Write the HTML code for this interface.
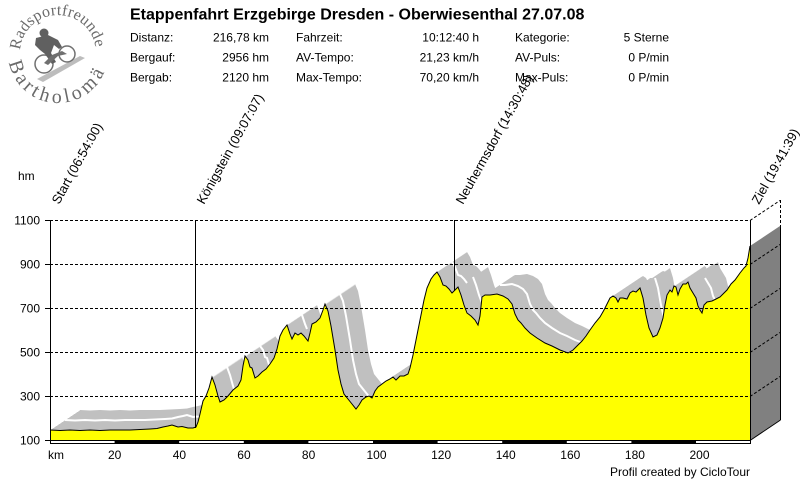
<!DOCTYPE html>
<html><head><meta charset="utf-8"><style>
html,body{margin:0;padding:0;background:#fff;}
svg{display:block;}
text{font-family:"Liberation Sans",Arial,sans-serif;fill:#000;}
.lt{font-family:"Liberation Serif","Times New Roman",serif;fill:#6a6a6a;}
</style></head><body>
<svg width="800" height="480" viewBox="0 0 800 480" xmlns="http://www.w3.org/2000/svg">
<defs>
<polygon id="p" points="50,440 50,430 60,430.5 70,430 80,430.5 90,430 100,430.5 110,430 120,430 130,430 140,429.5 150,429 157,428.5 163,427 168,426 172,425 175,426 178,427 182,426.5 188,428 193,428 196,427 198,422 200,414 203,401 206,396 209,388 212,377 215,385 218,396 220,402 224,400 228,396 233,390 238,386 241,380 243,366 245,356 248,360 250,367 252,368 255,378 258,376 262,372 266,369 270,364 274,358 277,349 280,336 283,330 287,325 290,334 292,339 295,333 298,335 301,333 304,336 308,341 310,333 312,324 316,322 320,318 323,310 325,304 328,311 331,326 335,350 338,370 341,384 344,394 348,399 352,404 356,409 359,405 362,400 366,397 369,396 372,398 375,391 378,387 382,384 386,381 390,379 393,377 396,380 400,376 404,376 408,374 410,368 413,355 416,340 420,320 424,300 427,288 431,279 434,275 437,272 440,277 443,285 446,286 449,289 452,293 455,290 458,287 461,295 464,305 467,313 471,316 475,320 478,325 480,316 482,297 485,295 490,295 497,294 503,296 508,299 512,304 515,314 518,320 521,323 525,328 530,333 537,338 545,343 552,346 560,350 568,353 573,350 577,346 582,341 586,336 590,330 595,323 600,317 604,310 607,304 610,298 613,296 616,298 618,302 620,298 623,298 627,299 630,293 633,291 636,292 640,288 643,298 646,315 649,328 653,337 657,335 660,328 663,318 665,305 667,295 670,290 672,292 674,286 676,287 678,295 680,289 683,284 686,284 688,282 690,288 693,293 696,298 698,306 700,310 702,313 704,305 707,302 712,301 716,299 720,297 724,293 727,290 731,284 735,280 740,273 744,268 746,266 748,258 749,252 750,246 750,440"/>
<polyline id="l" fill="none" points="50,430 60,430.5 70,430 80,430.5 90,430 100,430.5 110,430 120,430 130,430 140,429.5 150,429 157,428.5 163,427 168,426 172,425 175,426 178,427 182,426.5 188,428 193,428 196,427 198,422 200,414 203,401 206,396 209,388 212,377 215,385 218,396 220,402 224,400 228,396 233,390 238,386 241,380 243,366 245,356 248,360 250,367 252,368 255,378 258,376 262,372 266,369 270,364 274,358 277,349 280,336 283,330 287,325 290,334 292,339 295,333 298,335 301,333 304,336 308,341 310,333 312,324 316,322 320,318 323,310 325,304 328,311 331,326 335,350 338,370 341,384 344,394 348,399 352,404 356,409 359,405 362,400 366,397 369,396 372,398 375,391 378,387 382,384 386,381 390,379 393,377 396,380 400,376 404,376 408,374 410,368 413,355 416,340 420,320 424,300 427,288 431,279 434,275 437,272 440,277 443,285 446,286 449,289 452,293 455,290 458,287 461,295 464,305 467,313 471,316 475,320 478,325 480,316 482,297 485,295 490,295 497,294 503,296 508,299 512,304 515,314 518,320 521,323 525,328 530,333 537,338 545,343 552,346 560,350 568,353 573,350 577,346 582,341 586,336 590,330 595,323 600,317 604,310 607,304 610,298 613,296 616,298 618,302 620,298 623,298 627,299 630,293 633,291 636,292 640,288 643,298 646,315 649,328 653,337 657,335 660,328 663,318 665,305 667,295 670,290 672,292 674,286 676,287 678,295 680,289 683,284 686,284 688,282 690,288 693,293 696,298 698,306 700,310 702,313 704,305 707,302 712,301 716,299 720,297 724,293 727,290 731,284 735,280 740,273 744,268 746,266 748,258 749,252 750,246"/>
</defs>

<!-- Logo -->
<g class="lt" style="font-size:16px" text-anchor="middle">
<text class="lt" transform="translate(20.9,44.8) rotate(-77.6)">R</text>
<text class="lt" transform="translate(24.0,36.0) rotate(-63.5)">a</text>
<text class="lt" transform="translate(28.2,29.4) rotate(-51.6)">d</text>
<text class="lt" transform="translate(33.3,24.1) rotate(-40.5)">s</text>
<text class="lt" transform="translate(39.4,19.9) rotate(-29.3)">p</text>
<text class="lt" transform="translate(47.1,16.6) rotate(-16.7)">o</text>
<text class="lt" transform="translate(53.9,15.2) rotate(-6.2)">r</text>
<text class="lt" transform="translate(59.0,15.0) rotate(1.5)">t</text>
<text class="lt" transform="translate(64.0,15.5) rotate(9.1)">f</text>
<text class="lt" transform="translate(69.4,16.8) rotate(17.5)">r</text>
<text class="lt" transform="translate(75.4,19.2) rotate(27.2)">e</text>
<text class="lt" transform="translate(82.0,23.5) rotate(39.1)">u</text>
<text class="lt" transform="translate(87.8,29.4) rotate(51.7)">n</text>
<text class="lt" transform="translate(92.2,36.5) rotate(64.3)">d</text>
<text class="lt" transform="translate(94.9,43.9) rotate(76.2)">e</text>
</g>
<g class="lt" style="font-size:20px" text-anchor="middle">
<text class="lt" transform="translate(10.6,68.8) rotate(71.6)">B</text>
<text class="lt" transform="translate(17.3,82.1) rotate(54.4)">a</text>
<text class="lt" transform="translate(24.9,90.5) rotate(41.4)">r</text>
<text class="lt" transform="translate(32.7,96.1) rotate(30.4)">t</text>
<text class="lt" transform="translate(43.0,100.7) rotate(17.4)">h</text>
<text class="lt" transform="translate(56.6,103.0) rotate(1.6)">o</text>
<text class="lt" transform="translate(68.0,102.0) rotate(-11.5)">l</text>
<text class="lt" transform="translate(78.7,98.5) rotate(-24.5)">o</text>
<text class="lt" transform="translate(92.6,89.1) rotate(-43.8)">m</text>
<text class="lt" transform="translate(102.4,76.1) rotate(-62.5)">ä</text>
</g>
<g>
<polygon points="37,79 80,56 85,58 43,82" fill="#bdbdbd"/>
<circle cx="44" cy="64" r="9" fill="none" stroke="#707070" stroke-width="1.5"/>
<circle cx="67" cy="54" r="8" fill="none" stroke="#707070" stroke-width="1.5"/>
<circle cx="44" cy="33" r="4.5" fill="#606060"/>
<polygon points="36,38 48,35 58,40 62,47 59,49 54,45 51,53 56,62 52,64 45,54 40,50 35,45" fill="#606060"/>
<polygon points="44,63 52,55 62,51 67,54 58,56 48,65" fill="#707070"/>
</g>

<!-- Header -->
<text x="130" y="19.5" style="font-size:16px;font-weight:bold">Etappenfahrt Erzgebirge Dresden - Oberwiesenthal 27.07.08</text>
<g style="font-size:12px">
<text x="130" y="41.5">Distanz:</text>
<text x="130" y="61.5">Bergauf:</text>
<text x="130" y="81.5">Bergab:</text>
<text x="269" y="41.5" text-anchor="end">216,78 km</text>
<text x="269" y="61.5" text-anchor="end">2956 hm</text>
<text x="269" y="81.5" text-anchor="end">2120 hm</text>
<text x="296" y="41.5">Fahrzeit:</text>
<text x="296" y="61.5">AV-Tempo:</text>
<text x="296" y="81.5">Max-Tempo:</text>
<text x="479" y="41.5" text-anchor="end">10:12:40 h</text>
<text x="479" y="61.5" text-anchor="end">21,23 km/h</text>
<text x="479" y="81.5" text-anchor="end">70,20 km/h</text>
<text x="515" y="41.5">Kategorie:</text>
<text x="515" y="61.5">AV-Puls:</text>
<text x="515" y="81.5">Max-Puls:</text>
<text x="669" y="41.5" text-anchor="end">5 Sterne</text>
<text x="669" y="61.5" text-anchor="end">0 P/min</text>
<text x="669" y="81.5" text-anchor="end">0 P/min</text>
</g>

<!-- Gray sweep (3D top surface) -->
<g fill="#c0c0c0">
<use href="#p" transform="translate(30,-20)"/>
<use href="#p" transform="translate(29,-19.33)"/>
<use href="#p" transform="translate(28,-18.67)"/>
<use href="#p" transform="translate(27,-18)"/>
<use href="#p" transform="translate(26,-17.33)"/>
<use href="#p" transform="translate(25,-16.67)"/>
<use href="#p" transform="translate(24,-16)"/>
<use href="#p" transform="translate(23,-15.33)"/>
<use href="#p" transform="translate(22,-14.67)"/>
<use href="#p" transform="translate(21,-14)"/>
<use href="#p" transform="translate(20,-13.33)"/>
<use href="#p" transform="translate(19,-12.67)"/>
<use href="#p" transform="translate(18,-12)"/>
<use href="#p" transform="translate(17,-11.33)"/>
<use href="#p" transform="translate(16,-10.67)"/>
<use href="#p" transform="translate(15,-10)"/>
<use href="#p" transform="translate(14,-9.33)"/>
<use href="#p" transform="translate(13,-8.67)"/>
<use href="#p" transform="translate(12,-8)"/>
<use href="#p" transform="translate(11,-7.33)"/>
<use href="#p" transform="translate(10,-6.67)"/>
<use href="#p" transform="translate(9,-6)"/>
<use href="#p" transform="translate(8,-5.33)"/>
<use href="#p" transform="translate(7,-4.67)"/>
<use href="#p" transform="translate(6,-4)"/>
<use href="#p" transform="translate(5,-3.33)"/>
<use href="#p" transform="translate(4,-2.67)"/>
<use href="#p" transform="translate(3,-2)"/>
<use href="#p" transform="translate(2,-1.33)"/>
<use href="#p" transform="translate(1,-0.67)"/>
</g>
<!-- white highlight stripes (descending faces) -->
<g transform="translate(15,-10)" stroke="#ffffff" stroke-width="2" fill="none">
<polyline points="50,430 60,430.5 70,430 80,430.5 90,430 100,430.5 110,430 120,430 130,430 140,429.5 150,429 157,428.5 163,427 168,426 172,425 175,426 178,427 182,426.5 188,428 193,428 196,427"/>
<polyline points="212,377 215,385 218,396 220,402"/>
<polyline points="245,356 248,360 250,367 252,368 255,378"/>
<polyline points="287,325 290,334 292,339"/>
<polyline points="325,304 328,311 331,326 335,350 338,370 341,384 344,394 348,399 352,404 356,409"/>
<polyline points="437,272 440,277 443,285 446,286 449,289 452,293"/>
<polyline points="458,287 461,295 464,305 467,313 471,316 475,320 478,325"/>
<polyline points="485,295 490,295 497,294 503,296 508,299 512,304 515,314 518,320 521,323 525,328 530,333 537,338 545,343 552,346 560,350 568,353"/>
<polyline points="640,288 643,298 646,315 649,328 653,337"/>
<polyline points="690,288 693,293 696,298 698,306 700,310 702,313"/>
</g>

<!-- Yellow profile -->
<use href="#p" fill="#ffff00"/>
<use href="#l" stroke="#000" stroke-width="1"/>

<!-- 3D side -->
<polygon points="750,246 780,226 780,420 750,440" fill="#808080"/>

<!-- Grid -->
<g stroke="#000" stroke-width="1" stroke-dasharray="3,2" fill="none">
<line x1="50" y1="220.5" x2="750" y2="220.5"/>
<line x1="50" y1="264.5" x2="750" y2="264.5"/>
<line x1="50" y1="308.5" x2="750" y2="308.5"/>
<line x1="50" y1="352.5" x2="750" y2="352.5"/>
<line x1="50" y1="396.5" x2="750" y2="396.5"/>
<line x1="750" y1="220.5" x2="780" y2="200.5"/>
<line x1="750" y1="264.5" x2="780" y2="244.5"/>
<line x1="750" y1="308.5" x2="780" y2="288.5"/>
<line x1="750" y1="352.5" x2="780" y2="332.5"/>
<line x1="750" y1="396.5" x2="780" y2="376.5"/>
<line x1="780.5" y1="200" x2="780.5" y2="226"/>
</g>
<g stroke="#000" stroke-width="1" fill="none">
<line x1="780.5" y1="226" x2="780.5" y2="420"/>
<line x1="750" y1="440.5" x2="780.5" y2="420"/>
<line x1="50.5" y1="220" x2="50.5" y2="444"/>
<line x1="750.5" y1="220" x2="750.5" y2="444"/>
<line x1="195.5" y1="220" x2="195.5" y2="428"/>
<line x1="454.5" y1="220" x2="454.5" y2="291"/>
<line x1="45" y1="220.5" x2="50" y2="220.5"/>
<line x1="45" y1="264.5" x2="50" y2="264.5"/>
<line x1="45" y1="308.5" x2="50" y2="308.5"/>
<line x1="45" y1="352.5" x2="50" y2="352.5"/>
<line x1="45" y1="396.5" x2="50" y2="396.5"/>
<line x1="45" y1="440.5" x2="50" y2="440.5"/>
</g>

<!-- km bar -->
<rect x="50.5" y="440.5" width="700" height="3" fill="#fff" stroke="#000" stroke-width="1"/>
<g fill="#000">
<rect x="114.6" y="440" width="64.6" height="4"/>
<rect x="243.8" y="440" width="64.6" height="4"/>
<rect x="373" y="440" width="64.6" height="4"/>
<rect x="502.2" y="440" width="64.6" height="4"/>
<rect x="631.4" y="440" width="64.6" height="4"/>
</g>

<!-- Axis labels -->
<g style="font-size:12px">
<text x="18" y="180">hm</text>
<text x="40" y="224.5" text-anchor="end">1100</text>
<text x="40" y="268.5" text-anchor="end">900</text>
<text x="40" y="312.5" text-anchor="end">700</text>
<text x="40" y="356.5" text-anchor="end">500</text>
<text x="40" y="400.5" text-anchor="end">300</text>
<text x="40" y="444.5" text-anchor="end">100</text>
<text x="48" y="459">km</text>
<text x="108" y="459">20</text>
<text x="172.7" y="459">40</text>
<text x="237.3" y="459">60</text>
<text x="301.9" y="459">80</text>
<text x="366.5" y="459">100</text>
<text x="431.1" y="459">120</text>
<text x="495.7" y="459">140</text>
<text x="560.3" y="459">160</text>
<text x="624.9" y="459">180</text>
<text x="689.5" y="459">200</text>
<text x="750" y="476" text-anchor="end">Profil created by CicloTour</text>
</g>

<!-- Rotated markers -->
<g style="font-size:13px">
<text transform="translate(59,205) rotate(-61)">Start (06:54:00)</text>
<text transform="translate(204,205) rotate(-61)">Königstein (09:07:07)</text>
<text transform="translate(463,205) rotate(-61)">Neuhermsdorf (14:30:48)</text>
<text transform="translate(759,205) rotate(-61)">Ziel (19:41:39)</text>
</g>
</svg>
</body></html>
